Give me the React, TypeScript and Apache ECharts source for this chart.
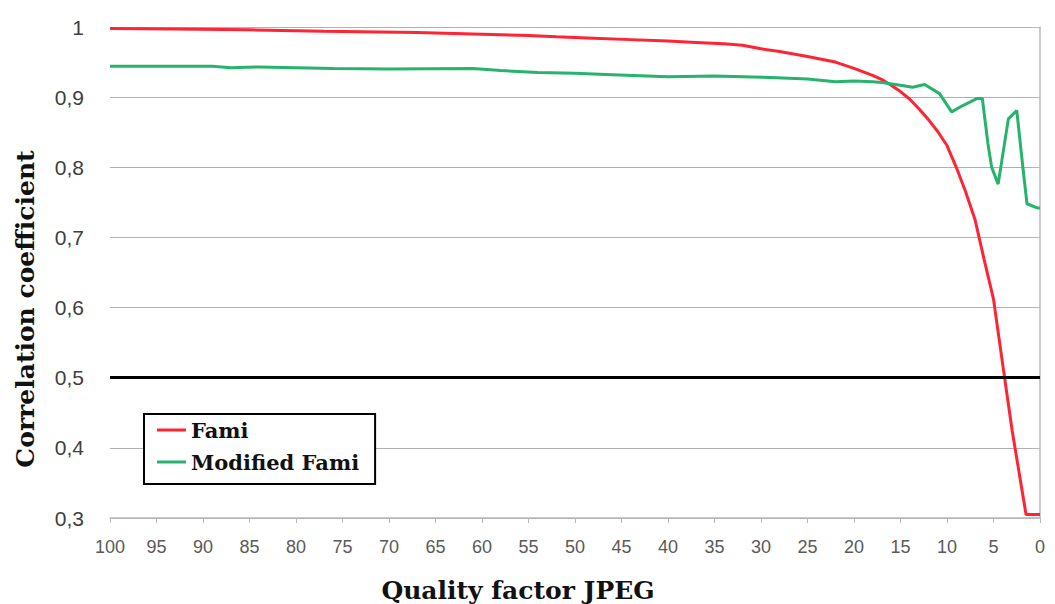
import React, { useEffect, useRef } from "react";
import * as echarts from "echarts";

// JPEG quality factor (x) and correlation coefficient (y) for each method
const famiQuality = [100, 93, 85, 77, 67, 61, 55, 52, 48, 44, 40, 37, 34, 32, 30, 28, 25, 22, 20, 18, 17, 16, 15, 14, 13, 12, 11, 10, 9, 8, 7, 6, 5, 4, 3, 2, 1.5, 0];
const famiValues = [0.998, 0.997, 0.996, 0.994, 0.992, 0.99, 0.988, 0.986, 0.984, 0.982, 0.98, 0.978, 0.976, 0.974, 0.969, 0.965, 0.958, 0.95, 0.941, 0.931, 0.925, 0.917, 0.908, 0.897, 0.883, 0.868, 0.851, 0.831, 0.8, 0.765, 0.726, 0.668, 0.612, 0.518, 0.425, 0.345, 0.305, 0.305];

const modQuality = [100, 89, 87, 84, 80, 76, 70, 61, 58, 54, 50, 46, 40, 35, 32, 29, 25, 22, 20, 18, 17, 15, 13.7, 12.4, 10.8, 9.5, 8.3, 6.8, 6.2, 5.6, 5.2, 4.5, 3.4, 2.5, 1.8, 1.4, 0.3, 0];
const modValues = [0.944, 0.944, 0.942, 0.943, 0.942, 0.941, 0.94, 0.941, 0.938, 0.935, 0.934, 0.932, 0.929, 0.93, 0.929, 0.928, 0.926, 0.922, 0.923, 0.922, 0.921, 0.917, 0.914, 0.918, 0.905, 0.879, 0.888, 0.898, 0.898, 0.834, 0.8, 0.776, 0.869, 0.881, 0.795, 0.748, 0.742, 0.742];

const seriesNames = ["Fami", "Modified Fami"];
const thresholdValue = 0.5;

const xTitle = "Quality factor JPEG";
const yTitle = "Correlation coefficient";

const pairs = (xs: number[], ys: number[]) => xs.map((x, i) => [x, ys[i]]);

export default function App() {
  const ref = useRef<HTMLDivElement>(null);

  useEffect(() => {
    if (!ref.current) return;
    const chart = echarts.init(ref.current, null, { renderer: "svg" });
    const serif = "'DejaVu Serif', 'Liberation Serif', serif";
    const sans = "'Liberation Sans', Arial, sans-serif";

    chart.setOption({
      animation: false,
      backgroundColor: "#ffffff",
      grid: { left: 110, top: 27, right: 15, bottom: 86, containLabel: false },
      legend: {
        orient: "vertical",
        left: 144,
        top: 414,
        padding: [5, 16, 11, 13],
        itemWidth: 29,
        itemHeight: 3,
        itemGap: 10,
        icon: "rect",
        borderColor: "#000000",
        borderWidth: 2,
        backgroundColor: "#ffffff",
        data: seriesNames,
        textStyle: {
          fontFamily: serif,
          fontWeight: "bold",
          fontSize: 21,
          lineHeight: 22,
          color: "#111111",
        },
      },
      xAxis: {
        type: "value",
        inverse: true,
        min: 0,
        max: 100,
        interval: 5,
        axisLine: { show: true, lineStyle: { color: "#b8b8b8", width: 1.5 } },
        axisTick: { show: true, length: 5, lineStyle: { color: "#b8b8b8" } },
        splitLine: { show: false },
        axisLabel: { margin: 20, fontFamily: sans, fontSize: 18, color: "#5a5a5a" },
      },
      yAxis: {
        type: "value",
        min: 0.3,
        max: 1,
        interval: 0.1,
        axisLine: { show: true, lineStyle: { color: "#b8b8b8", width: 1.5 } },
        axisTick: { show: true, length: 8, inside: false, lineStyle: { color: "#b8b8b8" } },
        splitLine: { show: true, lineStyle: { color: "#b0b0b0", width: 1.2 } },
        axisLabel: {
          margin: 26,
          fontFamily: sans,
          fontSize: 21,
          color: "#404040",
          formatter: (v: number) => String(Math.round(v * 10) / 10).replace(".", ","),
        },
      },
      graphic: [
        {
          type: "text",
          x: 25,
          y: 309,
          rotation: Math.PI / 2,
          style: {
            text: yTitle,
            fontFamily: serif,
            fontWeight: "bold",
            fontSize: 25,
            fill: "#111111",
            align: "center",
            verticalAlign: "middle",
          },
        },
        {
          type: "text",
          x: 518,
          y: 590,
          style: {
            text: xTitle,
            fontFamily: serif,
            fontWeight: "bold",
            fontSize: 25,
            fill: "#111111",
            align: "center",
            verticalAlign: "middle",
          },
        },
      ],
      series: [
        {
          name: seriesNames[0],
          type: "line",
          data: pairs(famiQuality, famiValues),
          showSymbol: false,
          lineStyle: { color: "#ff2433", width: 3 },
          itemStyle: { color: "#ff2433" },
          z: 3,
          markLine: {
            silent: true,
            symbol: ["none", "none"],
            label: { show: false },
            lineStyle: { color: "#000000", width: 3, type: "solid" },
            data: [{ yAxis: thresholdValue }],
          },
        },
        {
          name: seriesNames[1],
          type: "line",
          data: pairs(modQuality, modValues),
          showSymbol: false,
          lineStyle: { color: "#26b36c", width: 3 },
          itemStyle: { color: "#26b36c" },
          z: 4,
        },
      ],
    });

    return () => chart.dispose();
  }, []);

  return <div ref={ref} style={{ width: 1055, height: 604, position: "absolute", left: 0, top: 0 }} />;
}
